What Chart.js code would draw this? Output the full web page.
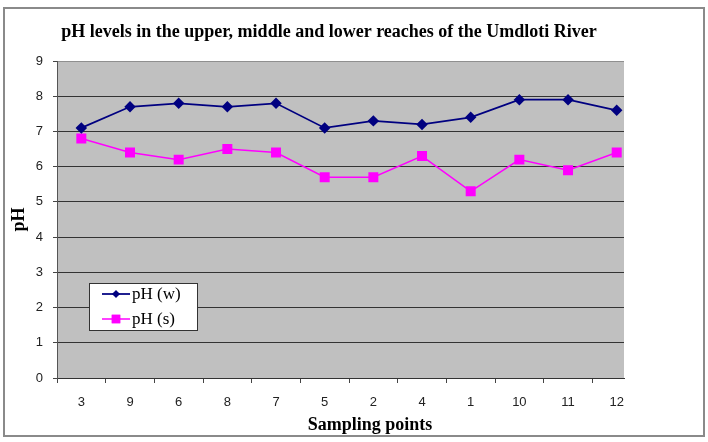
<!DOCTYPE html>
<html>
<head>
<meta charset="utf-8">
<script src="https://cdn.jsdelivr.net/npm/chart.js@4/dist/chart.umd.min.js"></script>
<style>
  html, body { margin: 0; padding: 0; background: #fff; }
  #wrap { width: 708px; height: 442px; }
</style>
</head>
<body>
<div id="wrap"><canvas id="phChart" width="708" height="442"></canvas></div>
<script>
// ─── Data ──────────────────────────────────────────────────────
const samplingPoints = ['3', '9', '6', '8', '7', '5', '2', '4', '1', '10', '11', '12'];
const phWater        = [7.1, 7.7, 7.8, 7.7, 7.8, 7.1, 7.3, 7.2, 7.4, 7.9, 7.9, 7.6];
const phSediment     = [6.8, 6.4, 6.2, 6.5, 6.4, 5.7, 5.7, 6.3, 5.3, 6.2, 5.9, 6.4];
const seriesNames    = ['pH (w)', 'pH (s)'];
const yTickValues    = [0, 1, 2, 3, 4, 5, 6, 7, 8, 9];

const chartTitle = 'pH levels in the upper, middle and lower reaches of the Umdloti River';
const xTitle     = 'Sampling points';
const yTitle     = 'pH';

const SERIF = '"Liberation Serif", "Times New Roman", serif';
const SANS  = '"Liberation Sans", Arial, sans-serif';

// ─── Frame, plot background, titles, legend ────────────────────
const excelLook = {
    id: 'excelLook',
    beforeDraw(chart) {
        const { ctx, chartArea: a } = chart;
        ctx.save();
        ctx.fillStyle = '#fff';
        ctx.fillRect(0, 0, chart.width, chart.height);
        ctx.fillStyle = '#c0c0c0';
        ctx.fillRect(a.left, a.top, a.right - a.left, a.bottom - a.top);
        ctx.strokeStyle = '#8a8a8a';
        ctx.lineWidth = 2;
        ctx.strokeRect(4, 8, 700, 428);
        ctx.restore();
    },
    afterDraw(chart) {
        const { ctx, chartArea: a } = chart;
        ctx.save();
        ctx.fillStyle = '#000';
        ctx.textAlign = 'center';
        ctx.textBaseline = 'middle';
        ctx.font = 'bold 18px ' + SERIF;
        ctx.fillText(chartTitle, 329, 32);
        ctx.fillText(xTitle, 370, 425);

        // legend box
        const bx = a.left + 32, by = a.top + 222, bw = 108, bh = 47;
        ctx.fillStyle = '#fff';
        ctx.fillRect(bx, by, bw, bh);
        ctx.strokeStyle = '#333';
        ctx.lineWidth = 1;
        ctx.strokeRect(bx + 0.5, by + 0.5, bw, bh);

        chart.data.datasets.forEach((ds, i) => {
            const y = by + 11 + i * 25;
            ctx.strokeStyle = ds.borderColor;
            ctx.lineWidth = ds.borderWidth;
            ctx.beginPath();
            ctx.moveTo(bx + 13, y);
            ctx.lineTo(bx + 41, y);
            ctx.stroke();
            ctx.fillStyle = ds.borderColor;
            Chart.helpers.drawPoint(ctx, {
                pointStyle: ds.pointStyle,
                radius: ds.legendRadius,
                borderWidth: 0
            }, bx + 27, y);
            ctx.fill();
            ctx.fillStyle = '#000';
            ctx.textAlign = 'left';
            ctx.font = '17px ' + SERIF;
            ctx.fillText(ds.label, bx + 43, y + 1);
        });
        ctx.restore();
    }
};

// ─── Chart ─────────────────────────────────────────────────────
const toPoints = arr => arr.map((v, i) => ({ x: i, y: v }));

new Chart(document.getElementById('phChart'), {
    type: 'line',
    data: {
        datasets: [{
            label: seriesNames[0],
            data: toPoints(phWater),
            borderColor: '#000080',
            backgroundColor: '#000080',
            borderWidth: 1.75,
            pointStyle: 'rectRot',
            pointRadius: 4.5,
            legendRadius: 3.8,
            tension: 0
        }, {
            label: seriesNames[1],
            data: toPoints(phSediment),
            borderColor: '#ff00ff',
            backgroundColor: '#ff00ff',
            borderWidth: 1.5,
            pointStyle: 'rect',
            pointRadius: 6,
            legendRadius: 6,
            tension: 0
        }]
    },
    options: {
        responsive: false,
        animation: false,
        layout: { padding: { top: 61, right: 84, bottom: 0, left: 0 } },
        plugins: {
            legend:  { display: false },
            title:   { display: false },
            tooltip: { enabled: false }
        },
        scales: {
            x: {
                type: 'linear',
                min: -0.5,
                max: 11.15,
                afterBuildTicks: scale => {
                    const ticks = [];
                    for (let i = 0; i < samplingPoints.length; i++) {
                        ticks.push({ value: i - 0.5 });
                        ticks.push({ value: i });
                    }
                    scale.ticks = ticks;
                },
                afterFit: scale => { scale.height = 64; },
                grid: {
                    drawOnChartArea: false,
                    tickLength: 5,
                    tickColor: c => (c.tick && Number.isInteger(c.tick.value)) ? 'rgba(0,0,0,0)' : '#444'
                },
                border: { color: '#333', width: 1 },
                ticks: {
                    autoSkip: false,
                    maxRotation: 0,
                    padding: 12,
                    color: '#222',
                    font: { family: SANS, size: 13 },
                    callback: v => Number.isInteger(v) ? samplingPoints[v] : ''
                }
            },
            y: {
                min: 0,
                max: 9,
                afterBuildTicks: scale => { scale.ticks = yTickValues.map(v => ({ value: v })); },
                afterFit: scale => { scale.width = 57; },
                grid: {
                    color: c => (c.tick && c.tick.value === 9) ? '#8f8f8f' : '#333',
                    tickColor: '#444',
                    tickLength: 4,
                    lineWidth: 1
                },
                border: { color: '#555', width: 1 },
                ticks: {
                    padding: 10,
                    color: '#222',
                    font: { family: SANS, size: 13 }
                },
                title: {
                    display: true,
                    text: yTitle,
                    color: '#000',
                    font: { family: SERIF, size: 18, weight: 'bold' },
                    padding: { top: 9, bottom: 0 }
                }
            }
        }
    },
    plugins: [excelLook]
});
</script>
</body>
</html>
